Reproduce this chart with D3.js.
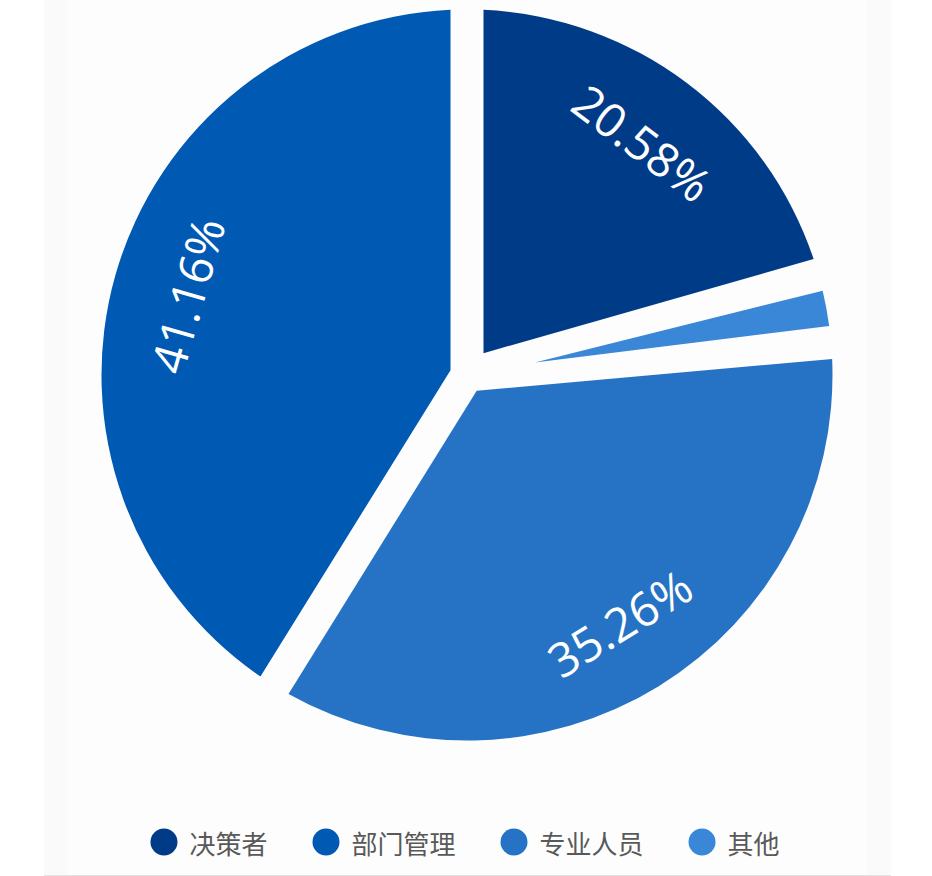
<!DOCTYPE html>
<html lang="zh">
<head>
  <meta charset="UTF-8">
  <title>人员构成</title>
  <script src="https://d3js.org/d3.v7.min.js"></script>
  <style>
    body { margin: 0; background: #fff; }
    .legend text { font-family: "Noto Sans CJK SC", "Noto Sans", sans-serif; font-size: 26px; fill: #595959; }
    .label { font-family: "Open Sans", "Noto Sans", sans-serif; font-size: 47px; fill: #fff; }
  </style>
</head>
<body>
  <svg id="chart" width="932" height="876"></svg>
  <script>
    // data, in legend order
    const categories = ['决策者', '部门管理', '专业人员', '其他'];
    const shares = [20.58, 41.16, 35.26, 3.00];
    const colors = ['#003b87', '#0059b3', '#2673c5', '#3a86d7'];
    // order of the slices clockwise from 12 o'clock
    const pieOrder = ['决策者', '其他', '专业人员', '部门管理'];
    const labelled = ['决策者', '部门管理', '专业人员'];

    const width = 932, height = 876;
    const cx = 467, cy = 375;
    const R = 365.5;
    const gap = 16.5;      // half width of the white gap between slices
    const maxApex = 69;    // thin slices end in a point this far from the centre

    const svg = d3.select('#chart');

    // panel background
    svg.append('rect').attr('x', 44).attr('y', 0).attr('width', 847).attr('height', 875).attr('fill', '#fafafa');
    svg.append('rect').attr('x', 68).attr('y', 0).attr('width', 798).attr('height', 875).attr('fill', '#fdfdfd');
    svg.append('line').attr('x1', 44).attr('x2', 891).attr('y1', 875.5).attr('y2', 875.5)
      .attr('stroke', '#e2e2e2').attr('stroke-width', 1);

    const data = categories.map((name, i) => ({ name, value: shares[i], color: colors[i] }));

    const pie = d3.pie()
      .value(d => d.value)
      .sort((a, b) => pieOrder.indexOf(a.name) - pieOrder.indexOf(b.name));

    const arcs = pie(data);

    const arc = d3.arc()
      .outerRadius(R)
      .innerRadius(d => Math.min(gap / Math.sin((d.endAngle - d.startAngle) / 2), maxApex))
      .padRadius(R)
      .padAngle(2 * Math.asin(gap / R));

    const g = svg.append('g').attr('transform', `translate(${cx},${cy})`);

    g.selectAll('path.slice')
      .data(arcs)
      .enter()
      .append('path')
      .attr('class', 'slice')
      .attr('d', arc)
      .attr('fill', d => d.data.color);

    // tangential labels
    const labelR = 291;
    g.selectAll('text.label')
      .data(arcs.filter(d => labelled.includes(d.data.name)))
      .enter()
      .append('text')
      .attr('class', 'label')
      .attr('text-anchor', 'middle')
      .attr('dominant-baseline', 'central')
      .attr('transform', d => {
        const mid = (d.startAngle + d.endAngle) / 2;
        const x = labelR * Math.sin(mid);
        const y = -labelR * Math.cos(mid);
        let rot = mid * 180 / Math.PI;
        if (rot > 90 && rot < 270) rot -= 180;
        else if (rot >= 270) rot -= 360;
        return `translate(${x},${y}) rotate(${rot})`;
      })
      .text(d => d.data.value.toFixed(2) + '%');

    // legend
    const legend = svg.append('g').attr('class', 'legend');
    const dotR = 13.5, textGap = 12, itemGap = 45, legendY = 842;
    const items = legend.selectAll('g')
      .data(data)
      .enter()
      .append('g');
    items.append('circle').attr('r', dotR).attr('cx', dotR).attr('cy', 0).attr('fill', d => d.color);
    items.append('text')
      .attr('x', dotR * 2 + textGap)
      .attr('y', 0)
      .attr('dominant-baseline', 'central')
      .text(d => d.name);

    let x = 0;
    items.each(function () {
      const w = this.getBBox().width;
      d3.select(this).attr('transform', `translate(${x},0)`);
      x += w + itemGap;
    });
    const total = x - itemGap;
    legend.attr('transform', `translate(${465 - total / 2},${legendY})`);
  </script>
</body>
</html>
